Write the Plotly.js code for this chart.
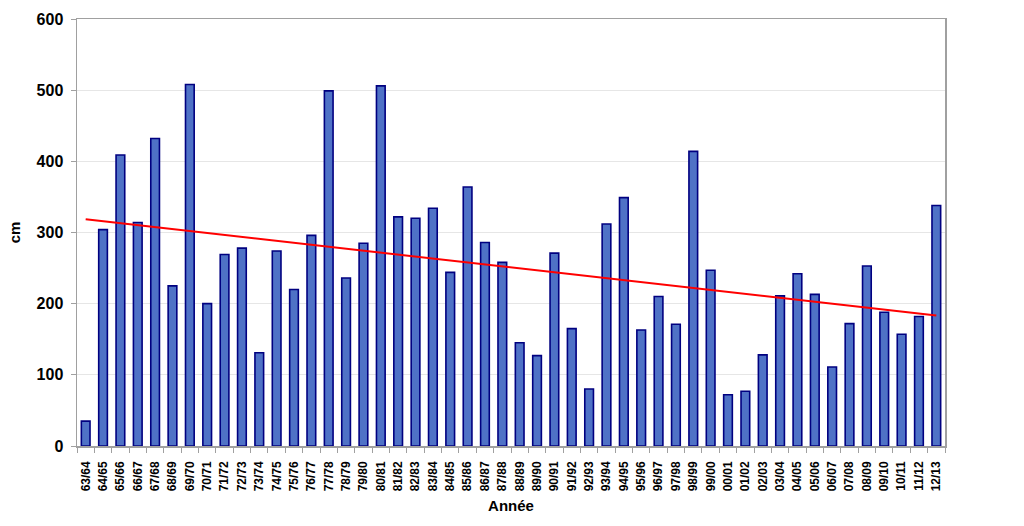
<!DOCTYPE html>
<html>
<head>
<meta charset="utf-8">
<script src="https://cdn.plot.ly/plotly-3.0.1.min.js"></script>
<style>
  html, body { margin: 0; padding: 0; background: #ffffff; }
  #chart { width: 1024px; height: 526px; }
</style>
</head>
<body>
<div id="chart"></div>
<script>
// Saisons (années hydrologiques)
const seasons = [
  "63/64","64/65","65/66","66/67","67/68","68/69","69/70","70/71","71/72","72/73",
  "73/74","74/75","75/76","76/77","77/78","78/79","79/80","80/81","81/82","82/83",
  "83/84","84/85","85/86","86/87","87/88","88/89","89/90","90/91","91/92","92/93",
  "93/94","94/95","95/96","96/97","97/98","98/99","99/00","00/01","01/02","02/03",
  "03/04","04/05","05/06","06/07","07/08","08/09","09/10","10/11","11/12","12/13"
];

// Valeurs (cm)
const snowCm = [
  35, 304, 409, 314, 432, 225, 508, 200, 269, 278,
  131, 274, 220, 296, 499, 236, 285, 506, 322, 320,
  334, 244, 364, 286, 258, 145, 127, 271, 165, 80,
  312, 349, 163, 210, 171, 414, 247, 72, 77, 128,
  211, 242, 213, 111, 172, 253, 188, 157, 182, 338
];

const yTicks = [0, 100, 200, 300, 400, 500, 600];

// Linear trend (least squares) of the series, as in the original spreadsheet trendline
function linearTrend(values) {
  const n = values.length;
  let sx = 0, sy = 0, sxx = 0, sxy = 0;
  for (let i = 0; i < n; i++) {
    sx += i; sy += values[i]; sxx += i * i; sxy += i * values[i];
  }
  const b = (n * sxy - sx * sy) / (n * sxx - sx * sx);
  const a = (sy - b * sx) / n;
  return values.map((_, i) => a + b * i);
}
const trend = linearTrend(snowCm);

const fontFamily = '"Liberation Sans", Arial, Helvetica, sans-serif';

const traces = [
  {
    type: 'bar',
    x: seasons,
    y: snowCm,
    marker: {
      color: '#4f72c6',
      line: { color: '#000080', width: 1.6 }
    },
    hoverinfo: 'x+y',
    showlegend: false
  },
  {
    type: 'scatter',
    mode: 'lines',
    x: seasons,
    y: trend,
    line: { color: '#ff0000', width: 2 },
    hoverinfo: 'skip',
    showlegend: false
  }
];

const layout = {
  width: 1024,
  height: 526,
  margin: { l: 77, r: 79, t: 19, b: 80 },
  paper_bgcolor: '#ffffff',
  plot_bgcolor: '#ffffff',
  bargap: 0.5,
  font: { family: fontFamily, color: '#000000' },
  xaxis: {
    type: 'category',
    tickangle: -90,
    tickfont: { family: fontFamily, size: 12, weight: 'bold', color: '#000000' },
    ticks: 'outside',
    tickson: 'boundaries',
    ticklen: 5,
    tickcolor: '#a0a0a0',
    tickwidth: 1,
    ticklabelstandoff: 9,
    showline: true,
    linecolor: '#a0a0a0',
    linewidth: 1.5,
    mirror: true,
    showgrid: false,
    zeroline: false,
    title: {
      text: 'Année',
      font: { family: fontFamily, size: 15, weight: 'bold', color: '#000000' },
      standoff: 10
    }
  },
  yaxis: {
    range: [0, 600],
    tickvals: yTicks,
    ticktext: yTicks.map(String),
    tickfont: { family: fontFamily, size: 16, weight: 'bold', color: '#000000' },
    ticks: 'outside',
    ticklen: 5,
    tickcolor: '#a0a0a0',
    tickwidth: 1,
    ticklabelstandoff: 4,
    showline: true,
    linecolor: '#a0a0a0',
    linewidth: 1.5,
    mirror: true,
    showgrid: true,
    gridcolor: '#e6e6e6',
    gridwidth: 1,
    zeroline: false,
    title: {
      text: 'cm',
      font: { family: fontFamily, size: 15, weight: 'bold', color: '#000000' },
      standoff: 12
    }
  }
};

Plotly.newPlot('chart', traces, layout, { displayModeBar: false, staticPlot: true });
</script>
</body>
</html>
